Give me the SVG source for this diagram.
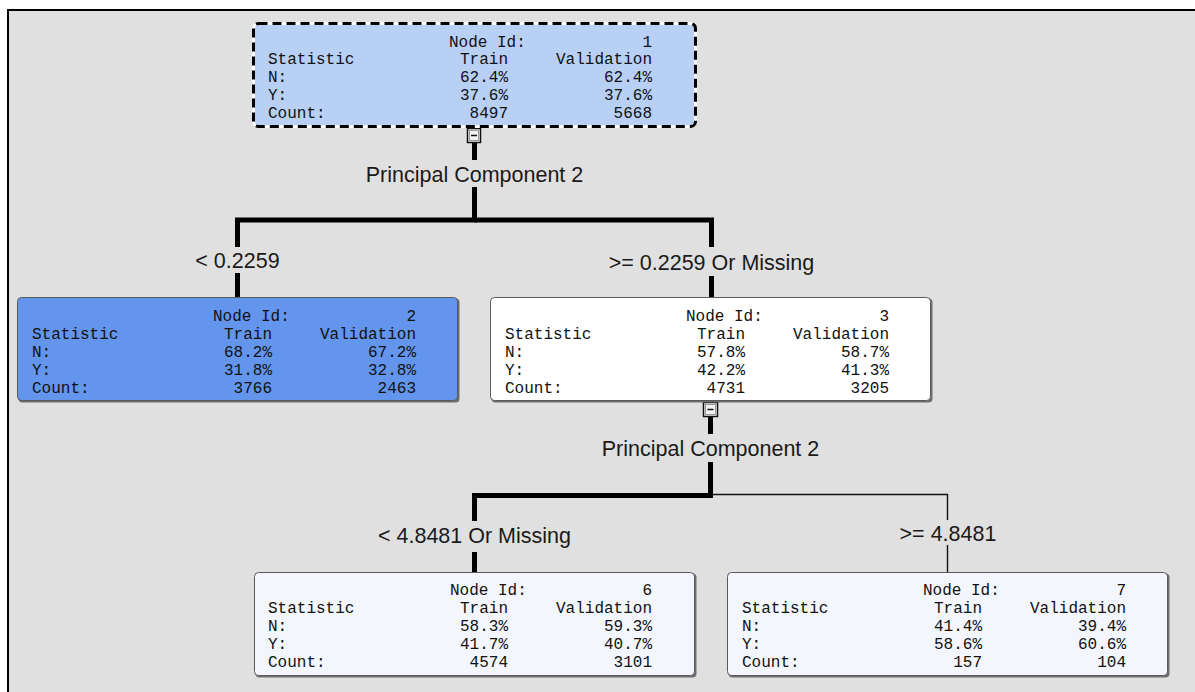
<svg xmlns="http://www.w3.org/2000/svg" width="1195" height="692" viewBox="0 0 1195 692">
<style>
.t{font-family:"Liberation Mono","DejaVu Sans Mono",monospace;font-size:16px;fill:#111}
.e{text-anchor:end}
.lbl{font-family:"Liberation Sans",Arial,sans-serif;font-size:21.5px;fill:#1a1a1a;text-anchor:middle}
.box{stroke:#5a5a5a;stroke-width:1}
.sh{fill:#6e6e6e}
.thick{stroke:#000;stroke-width:5;fill:none}
.thin{stroke:#111;stroke-width:1.4;fill:none}
.cb{fill:#f2f2f2;stroke:#111;stroke-width:1.5}
.cbi{fill:none;stroke:#9a9a9a;stroke-width:1}
.mn{stroke:#111;stroke-width:1.5}
</style>
<defs>
<g id="rows">
<text class="t" x="0" y="41.9">Statistic</text>
<text class="t" x="0" y="59.8">N:</text>
<text class="t" x="0" y="77.7">Y:</text>
<text class="t" x="0" y="95.6">Count:</text>
</g>
</defs>
<rect x="0" y="0" width="1195" height="692" fill="#ffffff"/>
<rect x="8" y="10" width="1187" height="682" fill="#e0e0e0"/>
<line x1="7" y1="10" x2="1195" y2="10" stroke="#000" stroke-width="2"/>
<line x1="8" y1="9" x2="8" y2="692" stroke="#000" stroke-width="2"/>

<g id="connectors">
<line class="thick" x1="474.5" y1="142" x2="474.5" y2="160"/>
<polyline class="thick" points="474.5,187 474.5,220 237.5,220 237.5,247"/>
<polyline class="thick" points="474.5,220 711.5,220 711.5,247"/>
<line class="thick" x1="237.5" y1="273" x2="237.5" y2="297"/>
<line class="thick" x1="711.5" y1="276" x2="711.5" y2="297"/>
<line class="thick" x1="710.5" y1="416" x2="710.5" y2="434"/>
<polyline class="thin" points="710.5,494.5 947.5,494.5 947.5,520"/>
<line class="thin" x1="947.5" y1="545" x2="947.5" y2="572"/>
<polyline class="thick" points="710.5,462 710.5,495.5 474.5,495.5 474.5,521"/>
<line class="thick" x1="474.5" y1="552" x2="474.5" y2="572"/>
<g id="cb1">
<rect class="cb" x="467.5" y="128.5" width="13" height="14"/>
<rect class="cbi" x="469.5" y="130.5" width="9" height="10"/>
<line class="mn" x1="471" y1="135.5" x2="477" y2="135.5"/>
</g>
<g id="cb3">
<rect class="cb" x="703.5" y="402.5" width="14" height="14"/>
<rect class="cbi" x="705.5" y="404.5" width="10" height="10"/>
<line class="mn" x1="707.5" y1="409.5" x2="713.5" y2="409.5"/>
</g>
<text class="lbl" x="474.5" y="181.5">Principal Component 2</text>
<text class="lbl" x="237.5" y="267.5">&lt; 0.2259</text>
<text class="lbl" x="711.5" y="270">&gt;= 0.2259 Or Missing</text>
<text class="lbl" x="710.5" y="456">Principal Component 2</text>
<text class="lbl" x="474.5" y="543">&lt; 4.8481 Or Missing</text>
<text class="lbl" x="948" y="541">&gt;= 4.8481</text>
</g>

<g id="node1" transform="translate(253,22)">
<rect x="0.5" y="1.5" width="442" height="103" rx="5" fill="#b8d0f4" stroke="#ffffff" stroke-width="3"/>
<rect x="0.5" y="1.5" width="442" height="103" rx="5" fill="none" stroke="#000" stroke-width="3" stroke-dasharray="9 5"/>
<g transform="translate(15,0.5)">
<use href="#rows"/>
<text class="t" x="181" y="24">Node Id:</text>
<text class="t e" x="240" y="41.9">Train</text><text class="t e" x="384" y="41.9">Validation</text>
<text class="t e" x="384" y="24">1</text>
<text class="t e" x="240" y="59.8">62.4%</text><text class="t e" x="384" y="59.8">62.4%</text>
<text class="t e" x="240" y="77.7">37.6%</text><text class="t e" x="384" y="77.7">37.6%</text>
<text class="t e" x="240" y="95.6">8497</text><text class="t e" x="384" y="95.6">5668</text>
</g>
</g>

<g id="node2" transform="translate(17,297)">
<rect class="sh" x="1.5" y="1.5" width="441" height="104" rx="4"/>
<rect class="box" x="0.5" y="0.5" width="440" height="103" rx="4" fill="#6495ed"/>
<g transform="translate(15,0)">
<use href="#rows"/>
<text class="t" x="181" y="24">Node Id:</text>
<text class="t e" x="240" y="41.9">Train</text><text class="t e" x="384" y="41.9">Validation</text>
<text class="t e" x="384" y="24">2</text>
<text class="t e" x="240" y="59.8">68.2%</text><text class="t e" x="384" y="59.8">67.2%</text>
<text class="t e" x="240" y="77.7">31.8%</text><text class="t e" x="384" y="77.7">32.8%</text>
<text class="t e" x="240" y="95.6">3766</text><text class="t e" x="384" y="95.6">2463</text>
</g>
</g>

<g id="node3" transform="translate(490,297)">
<rect class="sh" x="1.5" y="1.5" width="441" height="104" rx="4"/>
<rect class="box" x="0.5" y="0.5" width="440" height="103" rx="4" fill="#ffffff"/>
<g transform="translate(15,0)">
<use href="#rows"/>
<text class="t" x="181" y="24">Node Id:</text>
<text class="t e" x="240" y="41.9">Train</text><text class="t e" x="384" y="41.9">Validation</text>
<text class="t e" x="384" y="24">3</text>
<text class="t e" x="240" y="59.8">57.8%</text><text class="t e" x="384" y="59.8">58.7%</text>
<text class="t e" x="240" y="77.7">42.2%</text><text class="t e" x="384" y="77.7">41.3%</text>
<text class="t e" x="240" y="95.6">4731</text><text class="t e" x="384" y="95.6">3205</text>
</g>
</g>

<g id="node6" transform="translate(254,572)">
<rect class="sh" x="1.5" y="1.5" width="441" height="104" rx="4"/>
<rect class="box" x="0.5" y="0.5" width="440" height="103" rx="4" fill="#f4f6fd"/>
<g transform="translate(14,-1)">
<use href="#rows"/>
<text class="t" x="182" y="24">Node Id:</text>
<text class="t e" x="240" y="41.9">Train</text><text class="t e" x="384" y="41.9">Validation</text>
<text class="t e" x="384" y="24">6</text>
<text class="t e" x="240" y="59.8">58.3%</text><text class="t e" x="384" y="59.8">59.3%</text>
<text class="t e" x="240" y="77.7">41.7%</text><text class="t e" x="384" y="77.7">40.7%</text>
<text class="t e" x="240" y="95.6">4574</text><text class="t e" x="384" y="95.6">3101</text>
</g>
</g>

<g id="node7" transform="translate(727,572)">
<rect class="sh" x="1.5" y="1.5" width="441" height="104" rx="4"/>
<rect class="box" x="0.5" y="0.5" width="440" height="103" rx="4" fill="#f4f6fd"/>
<g transform="translate(15,-1)">
<use href="#rows"/>
<text class="t" x="181" y="24">Node Id:</text>
<text class="t e" x="240" y="41.9">Train</text><text class="t e" x="384" y="41.9">Validation</text>
<text class="t e" x="384" y="24">7</text>
<text class="t e" x="240" y="59.8">41.4%</text><text class="t e" x="384" y="59.8">39.4%</text>
<text class="t e" x="240" y="77.7">58.6%</text><text class="t e" x="384" y="77.7">60.6%</text>
<text class="t e" x="240" y="95.6">157</text><text class="t e" x="384" y="95.6">104</text>
</g>
</g>
</svg>
